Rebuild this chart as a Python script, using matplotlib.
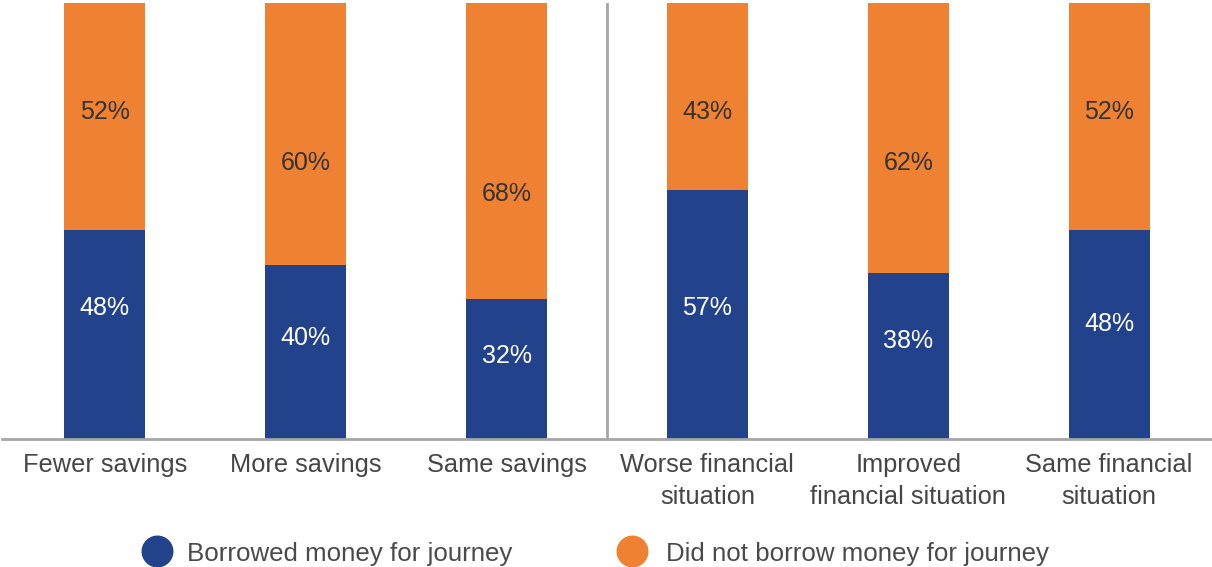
import matplotlib
matplotlib.use("Agg")
import matplotlib.pyplot as plt
from matplotlib.lines import Line2D

plt.rcParams['font.family'] = ['Liberation Sans', 'DejaVu Sans']

# categories and shares (%)
categories = ["Fewer savings", "More savings", "Same savings",
              "Worse financial\nsituation", "Improved\nfinancial situation",
              "Same financial\nsituation"]
borrowed = [48, 40, 32, 57, 38, 48]
not_borrowed = [52, 60, 68, 43, 62, 52]
series_names = ["Borrowed money for journey", "Did not borrow money for journey"]

# where the value labels sit inside each bar (in % of bar height)
borrowed_label_y = [30.0, 23.2, 19.0, 30.0, 22.5, 26.4]
not_borrowed_label_y = [75.0, 63.3, 56.2, 75.0, 63.3, 75.0]

blue = "#22428C"
orange = "#EF8132"
axis_gray = "#A6A6A6"
W, H = 1212, 567

fig = plt.figure(figsize=(W / 100, H / 100), dpi=100)
ax = fig.add_axes([2 / W, 128 / H, 1210 / W, 436 / H])

x = list(range(len(categories)))
w = 0.403
ax.bar(x, borrowed, width=w, color=blue, zorder=2)
ax.bar(x, not_borrowed, width=w, bottom=borrowed, color=orange, zorder=2)

for i in x:
    ax.text(i, borrowed_label_y[i], f"{borrowed[i]}%", ha="center", va="center",
            color="white", fontsize=18)
    ax.text(i, not_borrowed_label_y[i], f"{not_borrowed[i]}%", ha="center", va="center",
            color="#333333", fontsize=18)

ax.set_xlim(-0.512, 5.512)
ax.set_ylim(0, 100)

for s in ["top", "right", "left"]:
    ax.spines[s].set_visible(False)
ax.spines["bottom"].set_color(axis_gray)
ax.spines["bottom"].set_linewidth(2)
ax.spines["bottom"].set_zorder(3)

# divider between the two groups
ax.axvline(2.5, ymin=0, ymax=1.0, color=axis_gray, linewidth=2, zorder=1)

ax.set_yticks([])
ax.set_xticks(x)
ax.set_xticklabels(categories, fontsize=18.3, color="#454545", linespacing=1.45)
ax.tick_params(axis="x", length=0, pad=10)

# legend drawn by hand: circle marker + label
marker_x = [157, 632]
text_x = [187, 666]
colors = [blue, orange]
for mx, tx, c, name in zip(marker_x, text_x, colors, series_names):
    fig.add_artist(Line2D([mx / W], [1 - 551 / H], marker="o", markersize=22,
                          color=c, linestyle="", transform=fig.transFigure))
    fig.text(tx / W, 1 - 551 / H, name, ha="left", va="center_baseline",
             fontsize=18.6, color="#4A4A4A")

fig.savefig("out.png", dpi=100)
